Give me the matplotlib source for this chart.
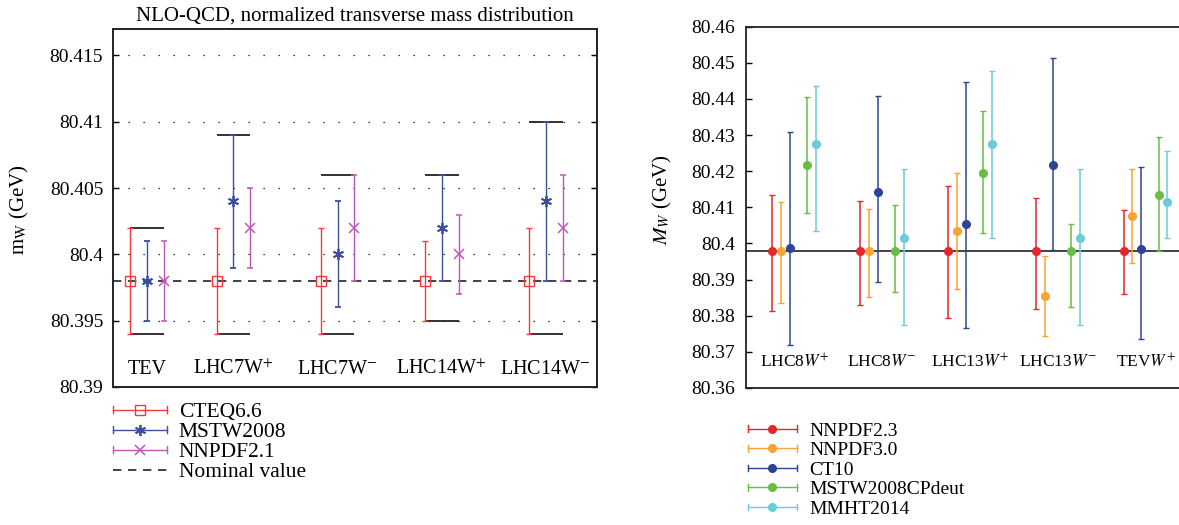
import numpy as np
import matplotlib.pyplot as plt
from matplotlib.lines import Line2D
from matplotlib.legend_handler import HandlerBase
from matplotlib.container import ErrorbarContainer
from matplotlib.ticker import FuncFormatter, MultipleLocator

plt.rcParams['font.family'] = ['Liberation Serif', 'DejaVu Serif']
plt.rcParams['mathtext.fontset'] = 'stix'

# ---- left panel: NLO-QCD, normalized transverse mass ----
left_cats = ['TEV', 'LHC7W$^{+}$', 'LHC7W$^{-}$', 'LHC14W$^{+}$', 'LHC14W$^{-}$']
left_pdfs = ['CTEQ6.6', 'MSTW2008', 'NNPDF2.1']
left_mid = [
    [80.398, 80.398, 80.398, 80.398, 80.398],
    [80.398, 80.404, 80.400, 80.402, 80.404],
    [80.398, 80.402, 80.402, 80.400, 80.402],
]
left_hi = [
    [80.402, 80.402, 80.402, 80.401, 80.402],
    [80.401, 80.409, 80.404, 80.406, 80.410],
    [80.401, 80.405, 80.406, 80.403, 80.406],
]
left_lo = [
    [80.394, 80.394, 80.394, 80.395, 80.394],
    [80.395, 80.399, 80.396, 80.398, 80.398],
    [80.395, 80.399, 80.398, 80.397, 80.398],
]
left_nominal = 80.398

# ---- right panel ----
right_cats = ['LHC8$W^{+}$', 'LHC8$W^{-}$', 'LHC13$W^{+}$', 'LHC13$W^{-}$', 'TEV$W^{+}$']
right_pdfs = ['NNPDF2.3', 'NNPDF3.0', 'CT10', 'MSTW2008CPdeut', 'MMHT2014']
right_mid = [
    [80.398, 80.398, 80.398, 80.398, 80.398],
    [80.398, 80.398, 80.4035, 80.3854, 80.4075],
    [80.3988, 80.4142, 80.4054, 80.4216, 80.3986],
    [80.4216, 80.398, 80.4194, 80.398, 80.4135],
    [80.4276, 80.4015, 80.4276, 80.4015, 80.4115],
]
right_hi = [
    [80.4135, 80.4118, 80.4160, 80.4127, 80.4092],
    [80.4114, 80.4096, 80.4194, 80.3965, 80.4206],
    [80.4308, 80.4407, 80.4446, 80.4512, 80.4211],
    [80.4406, 80.4106, 80.4367, 80.4055, 80.4296],
    [80.4436, 80.4206, 80.4477, 80.4206, 80.4255],
]
right_lo = [
    [80.3812, 80.3831, 80.3793, 80.3820, 80.3859],
    [80.3834, 80.3853, 80.3875, 80.3745, 80.3945],
    [80.3719, 80.3893, 80.3766, 80.3983, 80.3736],
    [80.4085, 80.3865, 80.4030, 80.3825, 80.3980],
    [80.4035, 80.3774, 80.4015, 80.3774, 80.4016],
]
right_nominal = 80.398


class HorizErrHandler(HandlerBase):
    # matlab-style legend entry: horizontal bar with end caps and a marker
    def create_artists(self, legend, orig_handle, xdescent, ydescent,
                       width, height, fontsize, trans):
        dl = orig_handle.lines[0]
        c = dl.get_color()
        y = height / 2 - ydescent
        x0, x1 = -xdescent, -xdescent + width
        cap = 2.4
        arts = [Line2D([x0, x1], [y, y], color=c, lw=1.0),
                Line2D([x0, x0], [y - cap, y + cap], color=c, lw=1.0),
                Line2D([x1, x1], [y - cap, y + cap], color=c, lw=1.0),
                Line2D([(x0 + x1) / 2], [y], ls='none', marker=dl.get_marker(),
                       ms=dl.get_markersize(), mfc=dl.get_markerfacecolor(),
                       mec=dl.get_markeredgecolor(), mew=dl.get_markeredgewidth())]
        for a in arts:
            a.set_transform(trans)
        return arts


fmt = FuncFormatter(lambda v, p: '%g' % round(v, 4))

fig = plt.figure(figsize=(11.79, 5.25), dpi=100)

# ---------------- left ----------------
ax1 = fig.add_axes([0.0958, 0.263, 0.4105, 0.682])
left_pos = np.array([0.070, 0.249, 0.464, 0.679, 0.894])
left_off = [-0.035, 0.0, 0.035]
left_colors = ['#f23a3a', '#3a4ea2', '#c056b6']
left_markers = [dict(marker='s', ms=6.5, mfc='none', mew=1.0),
                dict(marker=(6, 2, 0), ms=8, mew=1.3),
                dict(marker='x', ms=7, mew=1.1)]

handles1 = []
for j in range(3):
    mid = np.array(left_mid[j])
    yerr = [mid - np.array(left_lo[j]), np.array(left_hi[j]) - mid]
    h = ax1.errorbar(left_pos + left_off[j], mid, yerr=yerr,
                     ls='none', color=left_colors[j], ecolor=left_colors[j],
                     elinewidth=1.0, capsize=2, capthick=1.0, zorder=3,
                     label=left_pdfs[j], **left_markers[j])
    handles1.append(h)

top_env = np.max(np.array(left_hi), axis=0)
bot_env = np.min(np.array(left_lo), axis=0)
ax1.hlines(top_env, left_pos + left_off[0], left_pos + left_off[2], color='#222222', lw=1.3, zorder=2)
ax1.hlines(bot_env, left_pos + left_off[0], left_pos + left_off[2], color='#222222', lw=1.3, zorder=2)
nom = ax1.axhline(left_nominal, color='#222222', lw=1.2, ls=(0, (5, 4)), zorder=1, label='Nominal value')

for x, lab in zip(left_pos, left_cats):
    ax1.text(x, 80.3913, lab, ha='center', va='center', fontsize=14.5)

ax1.set_xlim(0, 1)
ax1.set_ylim(80.39, 80.417)
ax1.yaxis.set_major_locator(MultipleLocator(0.005))
ax1.yaxis.set_major_formatter(fmt)
ax1.set_xticks([])
ax1.tick_params(axis='y', direction='in', length=4, width=1, labelsize=14, pad=7, right=True)
ax1.yaxis.grid(True, ls=(0, (1, 11)), color='k', lw=0.9)
for s in ax1.spines.values():
    s.set_linewidth(1.4)
    s.set_color('#222222')
ax1.set_title('NLO-QCD, normalized transverse mass distribution', fontsize=15, pad=6)
ax1.set_ylabel('m$_{\\mathrm{W}}$ (GeV)', fontsize=15)
ax1.yaxis.set_label_coords(-0.17, 0.494)

ax1.legend(handles1 + [nom], left_pdfs + ['Nominal value'],
           handler_map={ErrorbarContainer: HorizErrHandler()},
           loc='upper left', bbox_to_anchor=(113 / 1179, 1 - 402 / 525),
           bbox_transform=fig.transFigure, frameon=False, fontsize=15.5,
           borderpad=0, borderaxespad=0, labelspacing=0.0,
           handlelength=2.5, handletextpad=0.55)

# ---------------- right ----------------
ax2 = fig.add_axes([746 / 1179, 1 - 388 / 525, (1185 - 746) / 1179, (388 - 26.7) / 525])
right_slots = [0.0, 0.1, 0.2, 0.4, 0.5]
right_colors = ['#e5262b', '#f6a433', '#2d4496', '#69bd45', '#6ccbd9']
grp = np.arange(len(right_cats))

handles2 = []
for j in range(5):
    mid = np.array(right_mid[j])
    yerr = [mid - np.array(right_lo[j]), np.array(right_hi[j]) - mid]
    h = ax2.errorbar(grp + right_slots[j], mid, yerr=yerr, ls='none', marker='o', ms=5.5,
                     color=right_colors[j], ecolor=right_colors[j], elinewidth=1.1,
                     capsize=2, capthick=1.0, zorder=3, label=right_pdfs[j])
    handles2.append(h)

ax2.axhline(right_nominal, color='#222222', lw=1.2, zorder=2)

for g, lab in zip(grp, right_cats):
    ax2.text(g + 0.25, 80.3672, lab, ha='center', va='center', fontsize=12.5)

ax2.set_xlim(-0.30, 4.70)
ax2.set_ylim(80.36, 80.46)
ax2.yaxis.set_major_locator(MultipleLocator(0.01))
ax2.yaxis.set_major_formatter(fmt)
ax2.set_xticks([])
ax2.tick_params(axis='y', direction='in', length=4, width=1, labelsize=14, pad=8)
for s in ax2.spines.values():
    s.set_linewidth(1.3)
    s.set_color('#222222')
ax2.set_ylabel('$M_W$ (GeV)', fontsize=15)
ax2.yaxis.set_label_coords(-0.165, 0.52)

ax2.legend(handles2, right_pdfs,
           handler_map={ErrorbarContainer: HorizErrHandler()},
           loc='upper left', bbox_to_anchor=(748 / 1179, 1 - 422 / 525),
           bbox_transform=fig.transFigure, frameon=False, fontsize=14,
           borderpad=0, borderaxespad=0, labelspacing=0.1,
           handlelength=2.5, handletextpad=0.65)

fig.savefig('out.png', dpi=100)
